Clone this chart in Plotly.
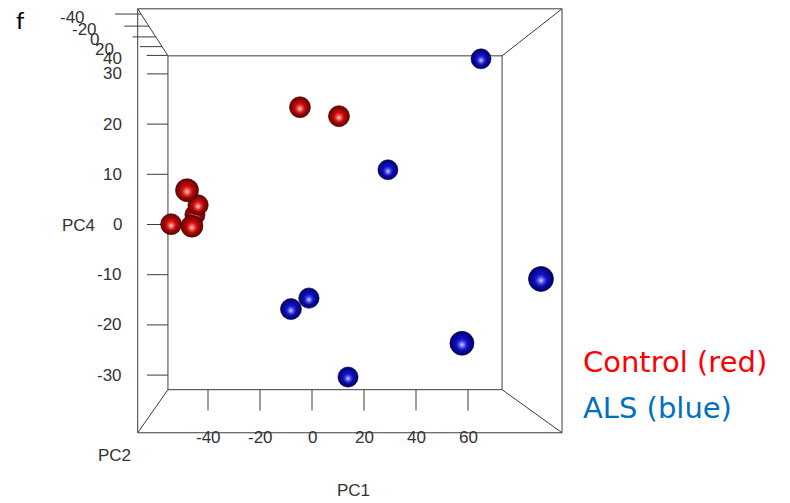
import plotly.graph_objects as go

# ---------------- data ----------------
control_pc1 = [-5.0, 9.3, -43.4, -43.2, -44.7, -52.2, -43.1]
control_pc2 = [21.1, 21.1, -13.6, 32.8, 36.9, 21.1, 2.9]
control_pc4 = [22.2, 20.5, 5.8, 3.8, 1.9, 0.0, -0.4]

als_pc1 = [65.0, 29.2, 68.0, -1.4, -8.3, 46.0, 13.6]
als_pc2 = [41.0, 41.0, -42.7, 32.8, 21.1, -28.8, 36.9]
als_pc4 = [33.0, 10.9, -8.9, -14.4, -16.1, -19.9, -30.1]

pc1_ticks = [-40, -20, 0, 20, 40, 60]
pc2_ticks = [-40, -20, 0, 20, 40]
pc4_ticks = [-30, -20, -10, 0, 10, 20, 30]

# bounding box of the 3-D view
PC1_LO, PC1_HI = -55.4, 73.1
PC2_FRONT, PC2_BACK = -48.0, 41.0
PC4_LO, PC4_HI = -32.9, 33.6

# perspective view parameters
VX, VY = -12.31, -1.10      # vanishing point (in PC1 / PC4 units of the back plane)
FRONT_SCALE = 1.27          # size ratio front face / back face
BASE_SIZE = 20              # marker diameter at the back plane


def depth_scale(pc2):
    t = (PC2_BACK - pc2) / (PC2_BACK - PC2_FRONT)
    return 1.0 / (1.0 - (1.0 - 1.0 / FRONT_SCALE) * t)


def proj(a, b, c):
    s = depth_scale(b)
    return VX + (a - VX) * s, VY + (c - VY) * s


LINE_COL = "#3c3c3c"
TXT_COL = "#333333"
TICK_FONT = dict(family="Liberation Sans, Arial", size=17, color=TXT_COL)

fig = go.Figure()

# ---------------- box frame ----------------
corners = [(a, b, c) for a in (PC1_LO, PC1_HI) for b in (PC2_FRONT, PC2_BACK) for c in (PC4_LO, PC4_HI)]
ex, ey = [], []
for i in range(len(corners)):
    for j in range(i + 1, len(corners)):
        p, q = corners[i], corners[j]
        if sum(1 for k in range(3) if p[k] != q[k]) == 1:
            x0, y0 = proj(*p)
            x1, y1 = proj(*q)
            ex += [x0, x1, None]
            ey += [y0, y1, None]

# ---------------- ticks ----------------
TICK_LEN_PC1 = 8.08   # in PC1 units
TICK_LEN_PC4 = 4.18   # in PC4 units
for v in pc1_ticks:
    x0, y0 = proj(v, PC2_BACK, PC4_LO)
    x1, y1 = proj(v, PC2_BACK, PC4_LO - TICK_LEN_PC4)
    ex += [x0, x1, None]; ey += [y0, y1, None]
for v in pc4_ticks:
    x0, y0 = proj(PC1_LO, PC2_BACK, v)
    x1, y1 = proj(PC1_LO - TICK_LEN_PC1, PC2_BACK, v)
    ex += [x0, x1, None]; ey += [y0, y1, None]
for v in pc2_ticks:
    x0, y0 = proj(PC1_LO, v, PC4_HI)
    x1, y1 = proj(PC1_LO - TICK_LEN_PC1, v, PC4_HI)
    ex += [x0, x1, None]; ey += [y0, y1, None]

fig.add_trace(go.Scatter(x=ex, y=ey, mode="lines", line=dict(color=LINE_COL, width=1),
                         hoverinfo="skip", showlegend=False))

annotations = []
for v in pc1_ticks:
    x, y = proj(v, PC2_BACK, PC4_LO - 9.46)
    annotations.append(dict(x=x, y=y, text=str(v), showarrow=False, xanchor="center",
                            yanchor="middle", font=TICK_FONT))
for v in pc4_ticks:
    x, y = proj(PC1_LO - 16.9, PC2_BACK, v)
    annotations.append(dict(x=x, y=y, text=str(v), showarrow=False, xanchor="right",
                            yanchor="middle", font=TICK_FONT))
for v in pc2_ticks:
    x, y = proj(PC1_LO - 21.2, v, PC4_HI)
    annotations.append(dict(x=x, y=y, text=str(v), showarrow=False, xanchor="center",
                            yanchor="middle", yshift=-3, font=TICK_FONT))

# ---------------- points (drawn back to front) ----------------
pts = []
for a, b, c in zip(control_pc1, control_pc2, control_pc4):
    pts.append((a, b, c, "red"))
for a, b, c in zip(als_pc1, als_pc2, als_pc4):
    pts.append((a, b, c, "blue"))
pts.sort(key=lambda p: -p[1])

STYLE = {
    "red": dict(edge="#6a0000", body="#ff1414", hi="rgba(255,225,225,1)", hi_edge="rgba(255,30,30,0)", line="#3a0000"),
    "blue": dict(edge="#00006a", body="#1c1cff", hi="rgba(225,225,255,1)", hi_edge="rgba(30,30,255,0)", line="#00003a"),
}
for a, b, c, grp in pts:
    x, y = proj(a, b, c)
    s = depth_scale(b)
    st = STYLE[grp]
    fig.add_trace(go.Scatter(
        x=[x], y=[y], mode="markers", hoverinfo="skip", showlegend=False,
        marker=dict(size=BASE_SIZE * s, color=st["edge"],
                    gradient=dict(type="radial", color=st["body"]),
                    line=dict(color=st["line"], width=0.6))))
    fig.add_trace(go.Scatter(
        x=[x], y=[y - 0.3], mode="markers", hoverinfo="skip", showlegend=False,
        marker=dict(size=BASE_SIZE * s * 0.55, color=st["hi_edge"],
                    gradient=dict(type="radial", color=st["hi"]),
                    line=dict(width=0))))

# ---------------- titles & legend text ----------------
W, H = 790, 503
def paper(px, py):
    return px / W, 1 - py / H

for txt, (px, py) in [("PC1", (353, 490)), ("PC2", (114, 455)), ("PC4", (78, 225))]:
    xp, yp = paper(px, py)
    annotations.append(dict(x=xp, y=yp, xref="paper", yref="paper", text=txt, showarrow=False,
                            xanchor="center", yanchor="middle", font=TICK_FONT))

xp, yp = paper(581, 362)
annotations.append(dict(x=xp, y=yp, xref="paper", yref="paper", text="Control (red)", showarrow=False,
                        xanchor="left", yanchor="middle",
                        font=dict(family="DejaVu Sans", size=29, color="#ff0000")))
xp, yp = paper(581, 408)
annotations.append(dict(x=xp, y=yp, xref="paper", yref="paper", text="ALS (blue)", showarrow=False,
                        xanchor="left", yanchor="middle",
                        font=dict(family="DejaVu Sans", size=29, color="#0070c0")))
xp, yp = paper(20, 20)
annotations.append(dict(x=xp, y=yp, xref="paper", yref="paper", text="f", showarrow=False,
                        xanchor="center", yanchor="middle",
                        font=dict(family="Lato, DejaVu Sans", size=24, color="#000000")))

X_MIN, X_MAX = -312 / 2.6, (W - 312) / 2.6
Y_MAX, Y_MIN = 224.5 / 5.02, (224.5 - H) / 5.02

fig.update_layout(
    width=W, height=H, margin=dict(l=0, r=0, t=0, b=0),
    paper_bgcolor="white", plot_bgcolor="white",
    xaxis=dict(range=[X_MIN, X_MAX], visible=False, fixedrange=True),
    yaxis=dict(range=[Y_MIN, Y_MAX], visible=False, fixedrange=True),
    annotations=annotations, showlegend=False,
)

fig.write_html("out.html")
